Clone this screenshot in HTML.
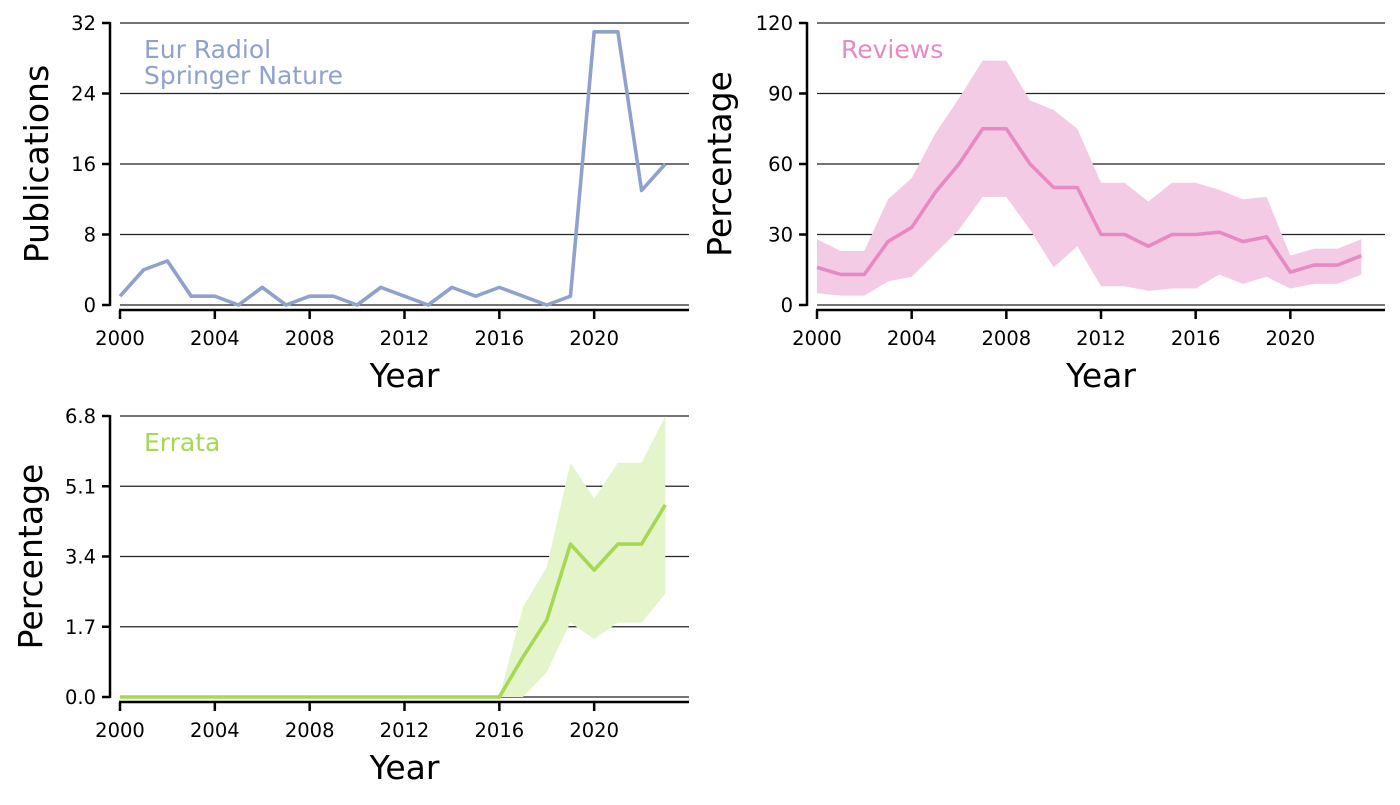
<!DOCTYPE html>
<html><head><meta charset="utf-8"><style>
body{margin:0;background:#fff;}
svg text{font-family:"DejaVu Sans","Liberation Sans",sans-serif;}
</style></head><body>
<svg id="c" width="1400" height="800" xmlns="http://www.w3.org/2000/svg"></svg>
<script>
const years=[2000,2001,2002,2003,2004,2005,2006,2007,2008,2009,2010,2011,2012,2013,2014,2015,2016,2017,2018,2019,2020,2021,2022,2023];
const pubs=[1,4,5,1,1,0,2,0,1,1,0,2,1,0,2,1,2,1,0,1,31,31,13,16];
const revMean=[16,13,13,27,33,48,60,75,75,60,50,50,30,30,25,30,30,31,27,29,14,17,17,21];
const revUp=[28,23,23,45,54,73,88,104,104,87,83,75,52,52,44,52,52,49,45,46,21,24,24,28];
const revLo=[5,4,4,10,12,22,32,46,46,32,16,25,8,8,6,7,7,13,9,12,7,9,9,13];
const errMean=[0,0,0,0,0,0,0,0,0,0,0,0,0,0,0,0,0,0.97,1.86,3.7,3.07,3.7,3.7,4.65];
const errUp=[0,0,0,0,0,0,0,0,0,0,0,0,0,0,0,0,0,2.18,3.15,5.67,4.8,5.67,5.67,6.8];
const errLo=[0,0,0,0,0,0,0,0,0,0,0,0,0,0,0,0,0,0,0.6,1.8,1.4,1.8,1.8,2.5];
const xTicks=[2000,2004,2008,2012,2016,2020];
const t1=[0,8,16,24,32],t1l=["0","8","16","24","32"];
const t2=[0,30,60,90,120],t2l=["0","30","60","90","120"];
const t3=[0,1.7,3.4,5.1,6.8],t3l=["0.0","1.7","3.4","5.1","6.8"];
const svg=document.getElementById('c');
const NS='http://www.w3.org/2000/svg';
function mk(tag,at,parent){const e=document.createElementNS(NS,tag);for(const k in at)e.setAttribute(k,at[k]);(parent||svg).appendChild(e);return e;}
function panel(o){
  const g=mk('g',{});
  
  
  const X=v=>o.l+(v-2000)*(o.r-o.l)/24;
  const Y=v=>o.b-(v/o.max)*(o.b-o.t);
  o.ticks.forEach((v,i)=>{
    const gl=mk('line',{x1:o.l,x2:o.r,y1:Y(v),y2:Y(v),stroke:'#222','stroke-width':1.2},g);
    
    
    mk('line',{x1:o.l-18,x2:o.l-10,y1:Y(v),y2:Y(v),stroke:'#000','stroke-width':2.5},g);
    const t=mk('text',{x:o.l-24,y:Y(v)+7,'text-anchor':'end','font-size':19.5},g);t.textContent=o.tl[i];
    
    
  });
  mk('line',{x1:o.l-10,x2:o.l-10,y1:o.t-1,y2:o.b+1,stroke:'#000','stroke-width':2.5},g);
  mk('line',{x1:o.l-1,x2:o.r,y1:o.b+5,y2:o.b+5,stroke:'#000','stroke-width':2.5},g);
  xTicks.forEach(v=>{
    mk('line',{x1:X(v),x2:X(v),y1:o.b+5,y2:o.b+14,stroke:'#000','stroke-width':2.5},g);
    const t=mk('text',{x:X(v),y:o.b+40,'text-anchor':'middle','font-size':19.5},g);t.textContent=v;
    
    
  });
  if(o.up){
    let d=years.map((y,i)=>(i?'L':'M')+X(y)+','+Y(o.up[i])).join('');
    for(let i=years.length-1;i>=0;i--)d+='L'+X(years[i])+','+Y(o.lo[i]);
    const b=mk('path',{d:d+'Z',fill:o.band,stroke:'none'},g);
    
    
  }
  const ln=mk('polyline',{points:years.map((y,i)=>X(y)+','+Y(o.vals[i])).join(' '),fill:'none',stroke:o.color,'stroke-width':3.6,'stroke-linejoin':'round'},g);
  
  
  o.label.forEach((s,i)=>{const t=mk('text',{x:o.l+24,y:o.t+35+i*26,'font-size':25,fill:o.color},g);t.textContent=s;
    
    });
  const xt=mk('text',{x:(o.l+o.r)/2,y:o.b+82,'text-anchor':'middle','font-size':33},g);xt.textContent='Year';
  
  
  const yt=mk('text',{x:0,y:0,'text-anchor':'middle','font-size':33,transform:`translate(${o.yx},${(o.t+o.b)/2}) rotate(-90)`},g);yt.textContent=o.ytitle;
  
  
}
panel({name:'publications-panel',l:120,r:689,t:23,b:305,max:32,ticks:t1,tl:t1l,vals:pubs,color:'#8fa2cd',label:['Eur Radiol','Springer Nature'],ytitle:'Publications',yx:48});
panel({name:'reviews-panel',l:817,r:1385,t:23,b:305,max:120,ticks:t2,tl:t2l,vals:revMean,up:revUp,lo:revLo,band:'#f4cbe4',color:'#e78ac3',label:['Reviews'],ytitle:'Percentage',yx:731});
panel({name:'errata-panel',l:120,r:689,t:416,b:697,max:6.8,ticks:t3,tl:t3l,vals:errMean,up:errUp,lo:errLo,band:'#e5f5cb',color:'#a6d854',label:['Errata'],ytitle:'Percentage',yx:42});
</script>
</body></html>
